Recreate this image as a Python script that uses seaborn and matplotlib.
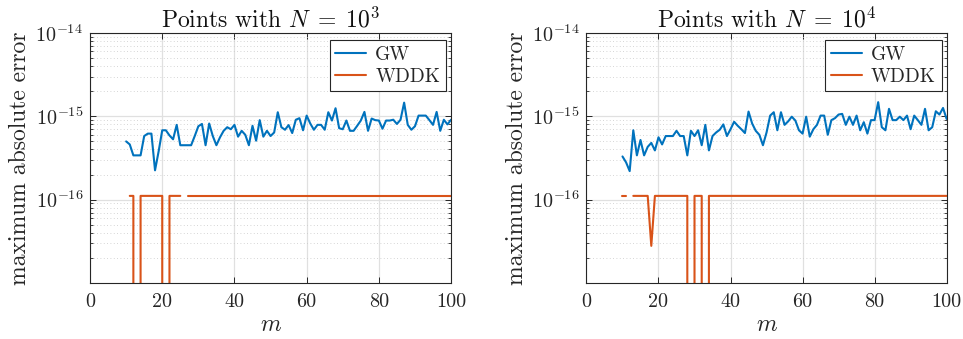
import numpy as np
import pandas as pd
import matplotlib
matplotlib.use("Agg")
import matplotlib.pyplot as plt
import seaborn as sns
from matplotlib.ticker import LogLocator, NullFormatter

# ---------------- data (errors in units of 1e-16) ----------------
m_values = list(range(10, 101))

gw_n3_e16 = [
    5.0, 4.6, 3.4, 3.4, 3.4, 5.8, 6.2, 6.2, 2.25, 3.8,      # 10-19
    6.8, 6.8, 5.9, 5.3, 7.9, 4.5, 4.5, 4.5, 4.5, 5.8,       # 20-29
    7.6, 8.1, 4.5, 8.2, 5.8, 4.5, 5.6, 6.7, 7.4, 7.0,       # 30-39
    7.9, 5.7, 6.7, 6.0, 4.5, 7.7, 5.1, 9.0, 5.7, 6.7,       # 40-49
    5.8, 6.4, 11.2, 7.4, 6.9, 7.85, 6.3, 9.1, 9.5, 6.8,     # 50-59
    10.2, 8.2, 6.9, 7.9, 7.9, 6.9, 11.2, 8.9, 12.5, 7.2,    # 60-69
    7.0, 8.9, 6.7, 6.7, 7.7, 8.9, 11.3, 6.7, 9.4, 9.0,      # 70-79
    8.9, 7.1, 8.9, 8.9, 9.1, 8.1, 9.1, 14.6, 7.9, 6.9,      # 80-89
    7.6, 10.2, 10.2, 10.2, 9.0, 7.9, 11.3, 6.7, 9.1, 8.0,   # 90-99
    9.1,                                                    # 100
]

gw_n4_e16 = [
    3.3, 2.8, 2.2, 6.8, 3.4, 5.2, 3.4, 4.3, 4.8, 3.9,       # 10-19
    5.6, 4.6, 5.8, 5.8, 5.8, 6.7, 5.8, 5.8, 3.4, 6.7,       # 20-29
    5.8, 6.8, 4.5, 7.9, 3.9, 5.8, 6.4, 6.9, 8.0, 5.8,       # 30-39
    7.0, 8.6, 7.7, 7.0, 6.3, 11.4, 8.2, 6.7, 6.0, 4.5,      # 40-49
    6.4, 10.2, 11.2, 6.8, 11.2, 7.9, 8.7, 9.9, 8.9, 6.8,    # 50-59
    6.2, 9.9, 5.7, 7.0, 7.9, 10.2, 10.2, 6.0, 9.0, 9.5,     # 60-69
    10.5, 10.7, 7.9, 9.9, 7.9, 10.2, 6.8, 8.5, 6.2, 9.0,    # 70-79
    9.0, 14.8, 7.4, 6.8, 12.3, 9.0, 9.0, 9.9, 9.0, 10.2,    # 80-89
    7.0, 10.2, 9.0, 7.9, 12.3, 6.8, 7.4, 11.5, 10.5, 12.6,  # 90-99
    9.3,                                                    # 100
]

nan = float("nan")
# NaN = no value (gap in the line); 0 = exact (line drops off the log axis)
wddk_n3_e16 = [
    nan, 1.11, 1.11, 0.0, 1.11, 1.11, 1.11, 1.11, 1.11, 1.11,   # 10-19
    1.11, 0.0, 1.11, 1.11, 1.11, 1.11, nan, 1.11, 1.11, 1.11,   # 20-29
    1.11, 1.11, 1.11, 1.11, 1.11, 1.11, 1.11, 1.11, 1.11, 1.11, # 30-39
    1.11, 1.11, 1.11, 1.11, 1.11, 1.11, 1.11, 1.11, 1.11, 1.11, # 40-49
    1.11, 1.11, 1.11, 1.11, 1.11, 1.11, 1.11, 1.11, 1.11, 1.11, # 50-59
    1.11, 1.11, 1.11, 1.11, 1.11, 1.11, 1.11, 1.11, 1.11, 1.11, # 60-69
    1.11, 1.11, 1.11, 1.11, 1.11, 1.11, 1.11, 1.11, 1.11, 1.11, # 70-79
    1.11, 1.11, 1.11, 1.11, 1.11, 1.11, 1.11, 1.11, 1.11, 1.11, # 80-89
    1.11, 1.11, 1.11, 1.11, 1.11, 1.11, 1.11, 1.11, 1.11, 1.11, # 90-99
    1.11,                                                       # 100
]

wddk_n4_e16 = [
    1.11, 1.11, nan, 1.11, 1.11, 1.11, 1.11, 1.11, 0.279, 1.11, # 10-19
    1.11, 1.11, 1.11, 1.11, 1.11, 1.11, 1.11, 1.11, 1.11, 0.0,  # 20-29
    1.11, 1.11, 1.11, 0.0, 1.11, 1.11, 1.11, 1.11, 1.11, 1.11,  # 30-39
    1.11, 1.11, 1.11, 1.11, 1.11, 1.11, 1.11, 1.11, 1.11, 1.11, # 40-49
    1.11, 1.11, 1.11, 1.11, 1.11, 1.11, 1.11, 1.11, 1.11, 1.11, # 50-59
    1.11, 1.11, 1.11, 1.11, 1.11, 1.11, 1.11, 1.11, 1.11, 1.11, # 60-69
    1.11, 1.11, 1.11, 1.11, 1.11, 1.11, 1.11, 1.11, 1.11, 1.11, # 70-79
    1.11, 1.11, 1.11, 1.11, 1.11, 1.11, 1.11, 1.11, 1.11, 1.11, # 80-89
    1.11, 1.11, 1.11, 1.11, 1.11, 1.11, 1.11, 1.11, 1.11, 1.11, # 90-99
    1.11,                                                       # 100
]

methods = ["GW", "WDDK"]
titles = [r"Points with $N\;=\;10^3$", r"Points with $N\;=\;10^4$"]
xticks = [0, 20, 40, 60, 80, 100]
xtick_labels = ["0", "20", "40", "60", "80", "100"]
yticks = [1e-16, 1e-15, 1e-14]
ytick_labels = [r"$10^{-16}$", r"$10^{-15}$", r"$10^{-14}$"]
colors = {"GW": "#0072BD", "WDDK": "#D95319"}


def long_frame(gw, wddk):
    rows = []
    for name, vals in (("GW", gw), ("WDDK", wddk)):
        seg = 0
        for m, v in zip(m_values, vals):
            if np.isnan(v):
                seg += 1
                continue
            rows.append({"m": m, "err": v * 1e-16, "method": name,
                         "seg": f"{name}{seg}"})
    return pd.DataFrame(rows)


# ---------------- style ----------------
sns.set_theme(style="white")
plt.rcParams.update({
    "font.family": "serif",
    "font.serif": ["cmr10", "DejaVu Serif"],
    "mathtext.fontset": "cm",
    "axes.formatter.use_mathtext": True,
    "axes.unicode_minus": False,
})

fig = plt.figure(figsize=(9.63, 3.39), dpi=100)
ax_pos = [[0.0935, 0.1652, 0.3749, 0.7375],
          [0.6090, 0.1652, 0.3740, 0.7375]]

for pos, gw, wddk, title in zip(ax_pos, (gw_n3_e16, gw_n4_e16),
                                (wddk_n3_e16, wddk_n4_e16), titles):
    ax = fig.add_axes(pos)
    df = long_frame(gw, wddk)
    sns.lineplot(data=df, x="m", y="err", hue="method", hue_order=methods,
                 units="seg", estimator=None, palette=colors, lw=1.5,
                 ax=ax, legend=True)
    ax.set_yscale("log", nonpositive="clip")
    ax.set_xlim(0, 100)
    ax.set_ylim(1e-17, 1e-14)

    ax.set_xticks(xticks)
    ax.set_xticklabels(xtick_labels)
    ax.set_yticks(yticks)
    ax.set_yticklabels(ytick_labels)
    ax.yaxis.set_minor_locator(LogLocator(base=10, subs=np.arange(2, 10)))
    ax.yaxis.set_minor_formatter(NullFormatter())

    ax.grid(True, which="major", axis="both", color="#e0e0e0", lw=0.9, ls="-")
    ax.grid(True, which="minor", axis="y", color="#c8c8c8", lw=0.6,
            ls=(0, (1, 3)))
    ax.set_axisbelow(True)

    for sp in ax.spines.values():
        sp.set_color("#262626")
        sp.set_linewidth(0.8)
    ax.tick_params(which="both", direction="in", top=True, right=True,
                   bottom=True, left=True, color="#262626", labelsize=14.5,
                   labelcolor="#262626")
    ax.tick_params(which="major", length=4, width=0.7)
    ax.tick_params(which="minor", length=2.5, width=0.6)
    ax.tick_params(axis="x", pad=7)
    ax.tick_params(axis="y", pad=5)

    ax.set_title(title, fontsize=17, color="#111111", pad=4)
    ax.set_xlabel(r"$m$", fontsize=17, color="#262626", labelpad=2)
    ax.set_ylabel("maximum absolute error", fontsize=17, color="#262626",
                  labelpad=3)

    sns.move_legend(ax, "upper right", bbox_to_anchor=(1 - 5 / 361, 1 - 7 / 250),
                    borderaxespad=0, frameon=True, fancybox=False,
                    edgecolor="#262626", framealpha=1, fontsize=14,
                    title=None, handlelength=1.6, handletextpad=0.45,
                    borderpad=0.3, labelspacing=0.2)
    leg = ax.get_legend()
    leg.get_frame().set_linewidth(0.8)

fig.savefig("out.png", dpi=100)
